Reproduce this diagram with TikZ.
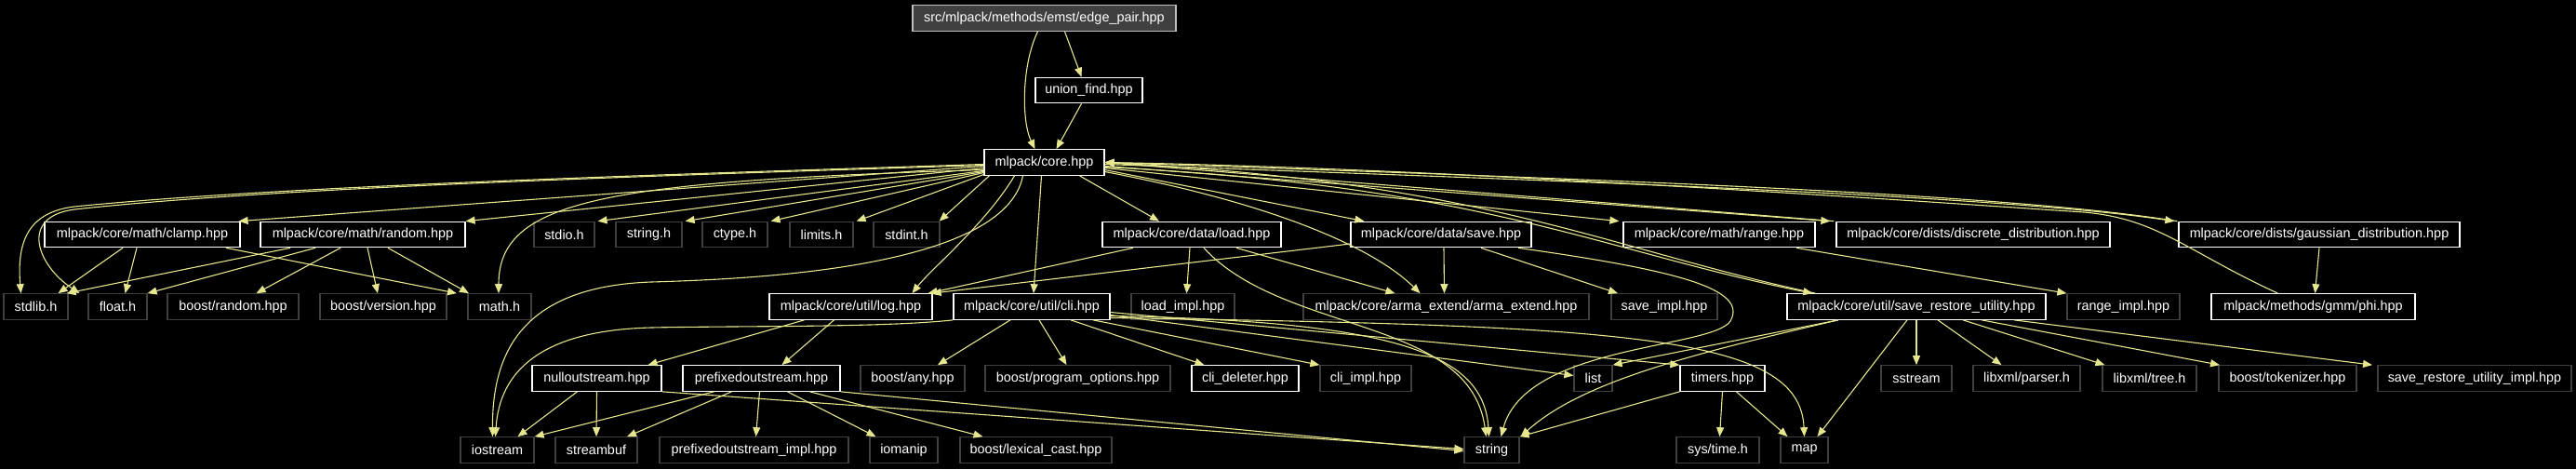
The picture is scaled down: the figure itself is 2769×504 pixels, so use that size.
\documentclass[tikz,border=0pt]{standalone}
\usepackage{fontspec}
\setmainfont{Liberation Sans}
\usetikzlibrary{arrows.meta}
\definecolor{EdgeKhaki}{HTML}{E6E68F}
\definecolor{SysGrey}{HTML}{404040}
\definecolor{RootGrey}{HTML}{BFBFBF}
\tikzset{
  docbox/.style={draw=white, fill=black, text=white, line width=1.2pt, minimum height=27.5pt, inner sep=0pt, font=\fontsize{14.4}{16}\selectfont},
  sysbox/.style={docbox, draw=SysGrey},
  rootbox/.style={docbox, draw=RootGrey, fill=SysGrey},
  arrow/.style={-{Triangle[length=10pt,width=8pt]}, line width=1.1pt, draw=EdgeKhaki}
}

\begin{document}
\begin{tikzpicture}[x=1pt, y=-1pt]
    \fill[black] (0,0) rectangle (2769,504);
    \useasboundingbox (0,0) rectangle (2769,504);

    % top rows
    \node[rootbox, minimum width=283pt] (edgepair) at (1122.5,19.5) {src/mlpack/methods/emst/edge\_pair.hpp};
    \node[docbox, minimum width=115pt] (unionfind) at (1170.5,97) {union\_find.hpp};
    \node[docbox, minimum width=129pt] (core) at (1122.5,174.5) {mlpack/core.hpp};

    % row 3
    \node[docbox, minimum width=210pt] (clamp) at (153,252) {mlpack/core/math/clamp.hpp};
    \node[docbox, minimum width=220pt] (random) at (390,252) {mlpack/core/math/random.hpp};
    \node[sysbox, minimum width=65pt] (stdio) at (606.5,252) {stdio.h};
    \node[sysbox, minimum width=71pt] (stringh) at (697.5,252) {string.h};
    \node[sysbox, minimum width=70pt] (ctype) at (790,252) {ctype.h};
    \node[sysbox, minimum width=68pt] (limits) at (883,252) {limits.h};
    \node[sysbox, minimum width=71pt] (stdint) at (974.5,252) {stdint.h};
    \node[docbox, minimum width=192pt] (load) at (1281,252) {mlpack/core/data/load.hpp};
    \node[docbox, minimum width=194pt] (save) at (1549,252) {mlpack/core/data/save.hpp};
    \node[docbox, minimum width=206pt] (range) at (1848,252) {mlpack/core/math/range.hpp};
    \node[docbox, minimum width=294pt] (discrete) at (2121,252) {mlpack/core/dists/discrete\_distribution.hpp};
    \node[docbox, minimum width=302pt] (gaussian) at (2493,252) {mlpack/core/dists/gaussian\_distribution.hpp};

    % row 4
    \node[sysbox, minimum width=69pt] (stdlib) at (38.5,329.5) {stdlib.h};
    \node[sysbox, minimum width=63pt] (floath) at (126.5,329.5) {float.h};
    \node[sysbox, minimum width=141pt] (brandom) at (250.5,329.5) {boost/random.hpp};
    \node[sysbox, minimum width=136pt] (bversion) at (412,329.5) {boost/version.hpp};
    \node[sysbox, minimum width=68pt] (mathh) at (537,329.5) {math.h};
    \node[docbox, minimum width=175pt] (log) at (914.5,329.5) {mlpack/core/util/log.hpp};
    \node[docbox, minimum width=168pt] (cli) at (1109,329.5) {mlpack/core/util/cli.hpp};
    \node[sysbox, minimum width=111pt] (loadimpl) at (1271.5,329.5) {load\_impl.hpp};
    \node[sysbox, minimum width=307pt] (arma) at (1554.5,329.5) {mlpack/core/arma\_extend/arma\_extend.hpp};
    \node[sysbox, minimum width=114pt] (saveimpl) at (1789,329.5) {save\_impl.hpp};
    \node[docbox, minimum width=278pt] (sru) at (2060,329.5) {mlpack/core/util/save\_restore\_utility.hpp};
    \node[sysbox, minimum width=121pt] (rangeimpl) at (2282.5,329.5) {range\_impl.hpp};
    \node[docbox, minimum width=219pt] (phi) at (2486.5,329.5) {mlpack/methods/gmm/phi.hpp};

    % row 5
    \node[docbox, minimum width=139pt] (nullos) at (641.5,406.5) {nulloutstream.hpp};
    \node[docbox, minimum width=169pt] (prefos) at (818.5,406.5) {prefixedoutstream.hpp};
    \node[sysbox, minimum width=112pt] (bany) at (981,406.5) {boost/any.hpp};
    \node[sysbox, minimum width=199pt] (bpo) at (1158.5,406.5) {boost/program\_options.hpp};
    \node[docbox, minimum width=115pt] (clidel) at (1338.5,406.5) {cli\_deleter.hpp};
    \node[sysbox, minimum width=98pt] (cliimpl) at (1468,406.5) {cli\_impl.hpp};
    \node[sysbox, minimum width=41pt] (list) at (1712.5,406.5) {list};
    \node[docbox, minimum width=91pt] (timers) at (1851.5,406.5) {timers.hpp};
    \node[sysbox, minimum width=76pt] (sstream) at (2060,406.5) {sstream};
    \node[sysbox, minimum width=115pt] (parser) at (2178.5,406.5) {libxml/parser.h};
    \node[sysbox, minimum width=101pt] (tree) at (2310.5,406.5) {libxml/tree.h};
    \node[sysbox, minimum width=148pt] (tokenizer) at (2459,406.5) {boost/tokenizer.hpp};
    \node[sysbox, minimum width=208pt] (sruimpl) at (2660,406.5) {save\_restore\_utility\_impl.hpp};

    % row 6
    \node[sysbox, minimum width=79pt] (iostream) at (534.5,483.5) {iostream};
    \node[sysbox, minimum width=88pt] (streambuf) at (641,483.5) {streambuf};
    \node[sysbox, minimum width=203pt] (prefimpl) at (810.5,483.5) {prefixedoutstream\_impl.hpp};
    \node[sysbox, minimum width=73pt] (iomanip) at (971.5,483.5) {iomanip};
    \node[sysbox, minimum width=163pt] (lexcast) at (1113.5,483.5) {boost/lexical\_cast.hpp};
    \node[sysbox, minimum width=59pt] (string) at (1603.5,483.5) {string};
    \node[sysbox, minimum width=89pt] (systime) at (1846.5,483.5) {sys/time.h};
    \node[sysbox, minimum width=51pt] (map) at (1939.5,483.5) {map};

    % edge_pair and union_find
    \draw[arrow] ([xshift=22pt]edgepair.south) -- ([xshift=-8pt]unionfind.north);
    \draw[arrow] ([xshift=-7pt]edgepair.south) .. controls (1098,70) and (1098,130) .. ([xshift=-10pt]core.north);
    \draw[arrow] ([xshift=-8pt]unionfind.south) -- ([xshift=13pt]core.north);

    % core.hpp, to the left
    \draw[arrow] ([yshift=-2pt]core.west) .. controls (700,188) and (300,200) .. (80,222) .. controls (30,228) and (18,260) .. ([xshift=-16pt]stdlib.north);
    \draw[arrow] ([yshift=-3pt]core.west) .. controls (700,189) and (300,201) .. (80,225) .. controls (20,233) and (40,285) .. ([xshift=-41pt]floath.north);
    \draw[arrow] ([yshift=-4pt]core.west) -- ([xshift=-2pt]clamp.north east);
    \draw[arrow] ([yshift=-6pt]core.west) -- (random.north east);
    \draw[arrow] ([yshift=-8pt]core.west) .. controls (650,195) and (536,215) .. ([xshift=-1pt]mathh.north);
    \draw[arrow] ([yshift=-9pt]core.west) -- ([xshift=3pt]stdio.north east);
    \draw[arrow] ([yshift=-10pt]core.west) -- ([xshift=3pt]stringh.north east);
    \draw[arrow] ([yshift=-11pt]core.west) -- ([xshift=3pt]ctype.north east);
    \draw[arrow] ([yshift=-13pt]core.west) -- ([xshift=3pt]limits.north east);
    \draw[arrow] ([xshift=6pt]core.south west) -- ([xshift=-1pt]stdint.north east);
    \draw[arrow] ([xshift=-23pt]core.south) .. controls (1080,290) and (800,300) .. (700,303) .. controls (560,308) and (529,380) .. ([xshift=-5pt]iostream.north);
    \draw[arrow] ([xshift=-32pt]core.south) .. controls (1060,240) and (1000,290) .. ([xshift=66pt]log.north);
    \draw[arrow] ([xshift=-3pt]core.south) -- ([xshift=2pt]cli.north);

    % core.hpp, to the right
    \draw[arrow] ([xshift=38pt]core.south) -- ([xshift=-35pt]load.north);
    \draw[arrow] ([yshift=-8pt]core.east) -- ([xshift=15pt]save.north west);
    \draw[arrow] ([yshift=-10pt]core.east) .. controls (1350,215) and (1470,260) .. ([xshift=-28pt]arma.north);
    \draw[arrow] ([yshift=-6pt]core.east) -- ([xshift=-4pt]range.north west);
    \draw[arrow] ([yshift=-4pt]core.east) -- ([xshift=-6pt]discrete.north west);
    \draw[arrow] ([yshift=-2pt]core.east) .. controls (1700,195) and (2150,210) .. ([xshift=-4pt]gaussian.north west);
    \draw[arrow] ([yshift=-5pt]core.east) .. controls (1600,200) and (1720,270) .. ([xshift=28pt]sru.north west);
    \draw[arrow] ([xshift=-2pt]discrete.north west) -- (core.east);
    \draw[arrow] ([xshift=-1pt]gaussian.north west) .. controls (2150,207) and (1700,192) .. (core.east);
    \draw[arrow] ([xshift=31pt]sru.north west) .. controls (1725,267) and (1605,197) .. (core.east);
    \draw[arrow] ([xshift=-38pt]phi.north) .. controls (2350,270) and (2320,235) .. (2240,228) .. controls (1900,205) and (1500,180) .. (core.east);

    % math
    \draw[arrow] ([xshift=-21pt]clamp.south) -- ([xshift=24pt]stdlib.north);
    \draw[arrow] ([xshift=-6pt]clamp.south) -- ([xshift=8pt]floath.north);
    \draw[arrow] ([xshift=90pt]clamp.south) -- ([xshift=-46pt]mathh.north);
    \draw[arrow] ([xshift=-78pt]random.south) -- ([xshift=-2pt]stdlib.north east);
    \draw[arrow] ([xshift=-51pt]random.south) -- (floath.north east);
    \draw[arrow] ([xshift=-24pt]random.south) -- ([xshift=25pt]brandom.north);
    \draw[arrow] ([xshift=5pt]random.south) -- ([xshift=-6pt]bversion.north);
    \draw[arrow] ([xshift=27pt]random.south) -- ([xshift=-33pt]mathh.north);
    \draw[arrow] ([xshift=83pt]range.south) -- (rangeimpl.north west);
    \draw[arrow] (gaussian.south) -- ([xshift=2pt]phi.north);

    % data
    \draw[arrow] ([xshift=-63pt]load.south) -- ([xshift=-5pt]log.north east);
    \draw[arrow] ([xshift=-2pt]load.south) -- ([xshift=4pt]loadimpl.north);
    \draw[arrow] ([xshift=48pt]load.south) -- ([xshift=-55pt]arma.north);
    \draw[arrow] ([xshift=13pt]load.south) .. controls (1380,360) and (1580,340) .. ([xshift=-6pt]string.north);
    \draw[arrow] ([yshift=-10pt]save.west) -- ([xshift=-1pt]log.north east);
    \draw[arrow] ([xshift=3pt]save.south) -- ([xshift=-2pt]arma.north);
    \draw[arrow] ([xshift=43pt]save.south) -- ([xshift=-50pt]saveimpl.north);
    \draw[arrow] ([xshift=83pt]save.south) .. controls (1800,290) and (1880,310) .. (1860,345) .. controls (1840,375) and (1640,370) .. ([xshift=10pt]string.north);

    % log
    \draw[arrow] ([xshift=-50pt]log.south) -- ([xshift=55pt]nullos.north);
    \draw[arrow] ([xshift=-18pt]log.south) -- ([xshift=22pt]prefos.north);
    \draw[arrow] ([xshift=-21pt]nullos.south) -- ([xshift=22pt]iostream.north);
    \draw[arrow] (nullos.south) -- (streambuf.north);
    \draw[arrow] (nullos.south east) -- ([yshift=1pt]string.west);
    \draw[arrow] ([xshift=-51pt]prefos.south) -- (iostream.north east);
    \draw[arrow] ([xshift=-32pt]prefos.south) -- ([xshift=33pt]streambuf.north);
    \draw[arrow] ([xshift=-2pt]prefos.south) -- ([xshift=2pt]prefimpl.north);
    \draw[arrow] ([xshift=28pt]prefos.south) -- ([xshift=-30pt]iomanip.north);
    \draw[arrow] ([xshift=52pt]prefos.south) -- ([xshift=-57pt]lexcast.north);
    \draw[arrow] (prefos.south east) -- ([yshift=-1pt]string.west);

    % cli
    \draw[arrow] (cli.south west) .. controls (950,352) and (800,350) .. (700,352) .. controls (580,355) and (537,400) .. ([xshift=-2pt]iostream.north);
    \draw[arrow] ([xshift=-23pt]cli.south) -- ([xshift=27pt]bany.north);
    \draw[arrow] ([xshift=8pt]cli.south) -- ([xshift=-12pt]bpo.north);
    \draw[arrow] ([xshift=42pt]cli.south) -- ([xshift=-44pt]clidel.north);
    \draw[arrow] ([xshift=66pt]cli.south) -- (cliimpl.north west);
    \draw[arrow] ([yshift=-9pt]cli.east) -- ([yshift=3pt]list.west);
    \draw[arrow] ([yshift=-6pt]cli.east) -- (timers.north west);
    \draw[arrow] ([yshift=-12pt]cli.east) .. controls (1750,350) and (1935,360) .. (map.north);
    \draw[arrow] ([yshift=-10pt]cli.east) .. controls (1500,345) and (1595,380) .. ([xshift=-3pt]string.north);
    \draw[arrow] (timers.south) -- ([xshift=2pt]systime.north);
    \draw[arrow] ([xshift=15pt]timers.south) -- ([xshift=-18pt]map.north);
    \draw[arrow] (timers.south west) -- (string.north east);

    % save_restore_utility
    \draw[arrow] ([xshift=-84pt]sru.south) .. controls (1820,380) and (1700,410) .. ([xshift=1pt]string.north east);
    \draw[arrow] ([xshift=-84pt]sru.south) -- (list.north east);
    \draw[arrow] ([xshift=-10pt]sru.south) -- ([xshift=14pt]map.north);
    \draw[arrow] (sru.south) -- (sstream.north);
    \draw[arrow] ([xshift=23pt]sru.south) -- ([xshift=-27pt]parser.north);
    \draw[arrow] ([xshift=50pt]sru.south) -- ([xshift=-48pt]tree.north);
    \draw[arrow] ([xshift=70pt]sru.south) -- ([xshift=-73pt]tokenizer.north);
    \draw[arrow] ([xshift=105pt]sru.south) -- ([xshift=-110pt]sruimpl.north);
\end{tikzpicture}
\end{document}
